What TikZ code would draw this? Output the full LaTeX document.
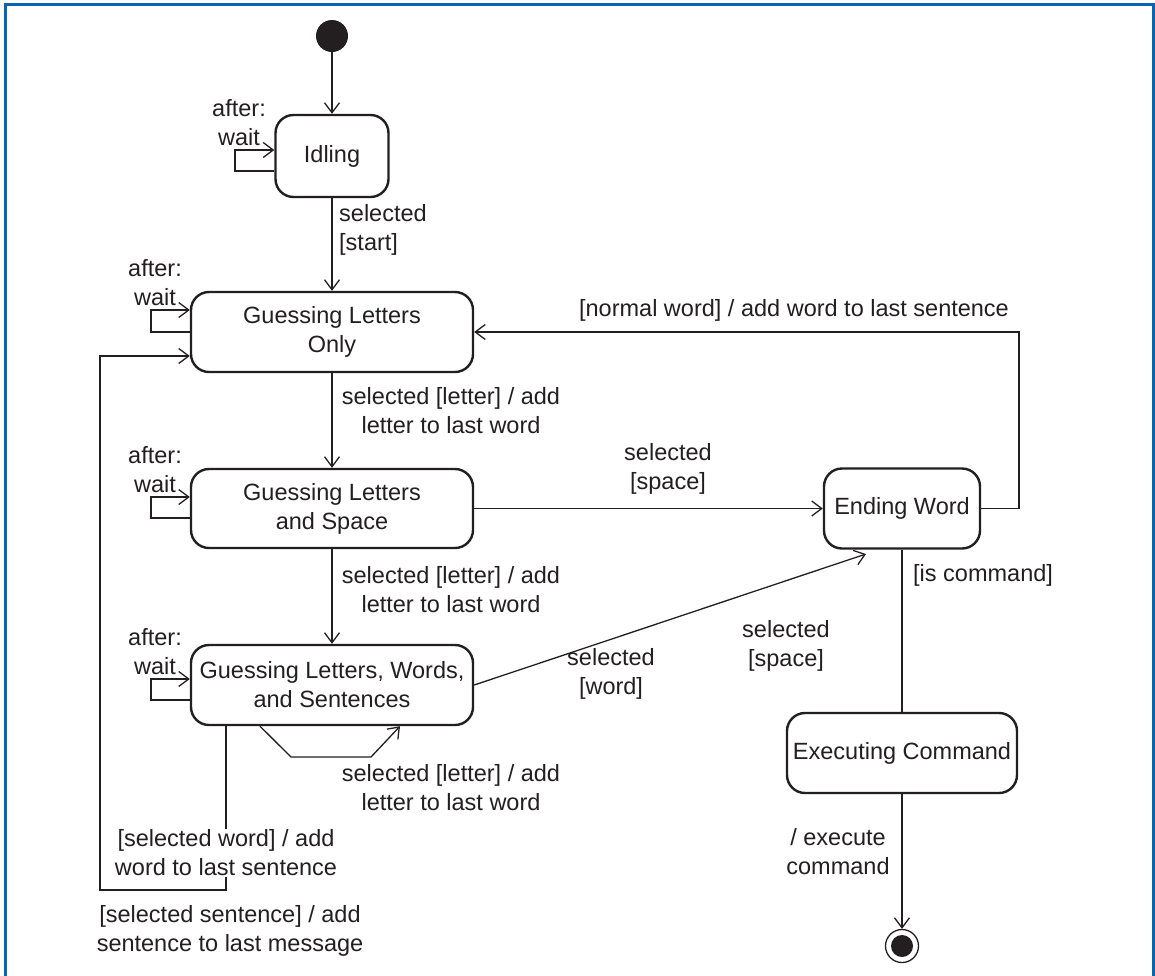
\documentclass[tikz,border=0pt]{standalone}
\usepackage{fontspec}
\setmainfont{Liberation Sans}
\usetikzlibrary{arrows.meta,calc}
\definecolor{ink}{HTML}{231F20}
\definecolor{frameblue}{RGB}{10,100,175}
\begin{document}
\begin{tikzpicture}[x=1pt,y=-1pt,
  stbox/.style={draw=ink, line width=2.4pt, rounded corners=18pt, inner sep=0pt,
    align=center, text=ink, font=\fontsize{23.5}{29}\selectfont},
  lbl/.style={inner sep=0pt, text=ink, font=\fontsize{23.5}{29}\selectfont},
  conn/.style={draw=ink, line width=1.3pt},
  arr/.style={conn, -{Straight Barb[length=10pt,width=15pt,line width=1.3pt]}}]
\useasboundingbox (0,0) rectangle (1155,975);
\fill[white] (0,0) rectangle (1155,975);
\draw[frameblue, line width=3pt] (5.7,976) -- (5.7,4.7) -- (1153,4.7) -- (1153,976);

% states
\node[circle, fill=ink, minimum size=32pt, inner sep=0pt] (init) at (332,36) {};
\node[stbox, minimum width=113pt, minimum height=82pt] (idle) at (332,156) {Idling};
\node[stbox, minimum width=282pt, minimum height=80pt] (glo) at (332,332) {Guessing Letters\\Only};
\node[stbox, minimum width=282pt, minimum height=79pt] (gls) at (332,508.5) {Guessing Letters\\and Space};
\node[stbox, minimum width=282pt, minimum height=80pt] (glws) at (332,685) {Guessing Letters, Words,\\and Sentences};
\node[stbox, minimum width=156pt, minimum height=80pt] (ew) at (902,508.5) {Ending Word};
\node[stbox, minimum width=230pt, minimum height=80pt] (ec) at (902,753) {Executing Command};
\node[circle, draw=ink, line width=1.3pt, minimum size=33pt, inner sep=0pt] (fin) at (902,946) {};
\fill[ink] (fin.center) circle (11);
\coordinate (ewin) at (866,554);

% connectors
\draw[arr] (init) -- (idle);
\draw[arr] (idle.west |- 0,171) -| (235,150) -- (idle.west |- 0,150);
\draw[arr] (idle) -- (glo);
\draw[arr] (glo.west |- 0,332) -| (151,310) -- (glo.west |- 0,310);
\draw[arr] (glo) -- (gls);
\draw[arr] (gls.west |- 0,518) -| (151,497) -- (gls.west |- 0,497);
\draw[arr] (gls) -- (glws);
\draw[arr] (glws.west |- 0,700) -| (151,679) -- (glws.west |- 0,679);
\draw[arr] (glws.south -| 260,0) -- (291,757) -- (371,757) -- (glws.south -| 400,0);
\draw[arr] (gls) -- (ew);
\draw[arr] (glws.east) -- (ewin);
\draw[arr] (ew.east) -| (1019,332) -- (glo.east);
\draw[conn] (ew) -- (ec);
\draw[arr] (ec) -- (fin);
\draw[arr] (glws.south -| 226,0) -- (226,890) -- (100,890) -- (100,356) -- (glo.west |- 0,356);

% labels
\node[lbl, align=center] (l1) at (239,123) {after:\\wait};
\node[lbl, align=center] (l2) at (155,283) {after:\\wait};
\node[lbl, align=center] (l3) at (155,470) {after:\\wait};
\node[lbl, align=center] (l4) at (155,652) {after:\\wait};
\node[lbl, align=left, anchor=west] (l5) at (339,230) {selected\\{}[start]};
\node[lbl, align=center] (l6) at (451,411) {selected [letter] / add\\letter to last word};
\node[lbl, align=center] (l7) at (451,590) {selected [letter] / add\\letter to last word};
\node[lbl, align=center] (l8) at (451,788) {selected [letter] / add\\letter to last word};
\node[lbl, align=center] (l9) at (668,469) {selected\\{}[space]};
\node[lbl, align=center] (l10) at (786,646) {selected\\{}[space]};
\node[lbl, align=center] (l11) at (611,674) {selected\\{}[word]};
\node[lbl] (l12) at (794,310) {[normal word] / add word to last sentence};
\node[lbl, anchor=west] (l13) at (913,575) {[is command]};
\node[lbl, align=center] (l14) at (838,852) {/ execute\\command};
\node[lbl, align=center, fill=white, inner sep=1pt] (l15) at (226,853) {[selected word] / add\\word to last sentence};
\node[lbl, align=center] (l16) at (230,931) {[selected sentence] / add\\sentence to last message};
\end{tikzpicture}
\end{document}
